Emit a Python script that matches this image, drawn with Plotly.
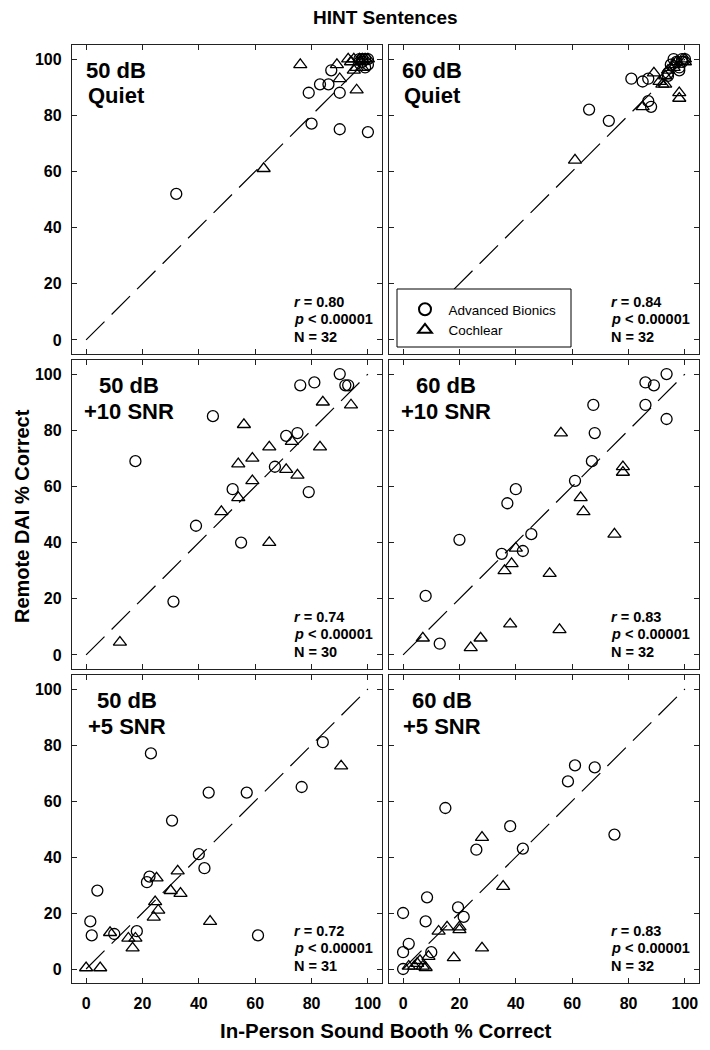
import plotly.graph_objects as go

# ---------------- data ----------------
label_level = ["50 dB", "60 dB", "50 dB", "60 dB", "50 dB", "60 dB"]
label_condition = ["Quiet", "Quiet", "+10 SNR", "+10 SNR", "+5 SNR", "+5 SNR"]
r_values = ["0.80", "0.84", "0.74", "0.83", "0.72", "0.83"]
p_values = ["0.00001", "0.00001", "0.00001", "0.00001", "0.00001", "0.00001"]
n_values = [32, 32, 30, 32, 31, 32]

tick_vals = [0, 20, 40, 60, 80, 100]
tick_text = ["0", "20", "40", "60", "80", "100"]

line_x = [0, 100]
line_y = [0, 100]

# 50 dB Quiet
q50_ab_x = [32, 80, 90, 100, 79, 83, 86, 90, 87, 99, 97, 98, 99, 100, 100, 98]
q50_ab_y = [52, 77, 75, 74, 88, 91, 91, 88, 96, 97, 100, 99, 100, 100, 98, 100]
q50_ci_x = [63, 76, 89, 90, 96, 93, 94, 95, 96, 97, 98, 99, 100, 95, 97, 98]
q50_ci_y = [61, 98, 98, 93, 89, 100, 99, 100, 97, 100, 97, 100, 100, 96, 99, 100]

# 60 dB Quiet
q60_ab_x = [66, 73, 81, 85, 87, 87, 88, 94, 94, 98, 98, 96, 97, 99, 100, 95, 99]
q60_ab_y = [82, 78, 93, 92, 93, 85, 83, 94, 95, 96, 97, 100, 99, 100, 100, 98, 99]
q60_ci_x = [61, 89, 85, 98, 98, 92, 93, 93, 94, 96, 97, 100, 96, 100, 91]
q60_ci_y = [64, 95, 83, 88, 86, 91, 91, 94, 96, 97, 99, 100, 98, 99, 92]

# 50 dB +10 SNR
s10_50_ab_x = [17.5, 31, 39, 45, 52, 55, 67, 71, 75, 79, 76, 81, 90, 92, 93]
s10_50_ab_y = [69, 19, 46, 85, 59, 40, 67, 78, 79, 58, 96, 97, 100, 96, 96]
s10_50_ci_x = [12, 48, 54, 54, 59, 59, 56, 65, 65, 71, 73, 75, 83, 84, 94]
s10_50_ci_y = [4.5, 51, 56, 68, 62, 70, 82, 40, 74, 66, 76, 64, 74, 90, 89]

# 60 dB +10 SNR
s10_60_ab_x = [8, 13, 20, 35, 37, 40, 42.5, 45.5, 61, 67, 68, 67.5, 86, 89, 93.5, 86, 93.5]
s10_60_ab_y = [21, 4, 41, 36, 54, 59, 37, 43, 62, 69, 79, 89, 97, 96, 100, 89, 84]
s10_60_ci_x = [7, 24, 27.5, 38, 36, 38.5, 40, 52, 55.5, 56, 63, 64, 75, 78, 78]
s10_60_ci_y = [6, 2.6, 6, 11, 30, 32.5, 38, 29, 9, 79, 56, 51, 43, 67, 65]

# 50 dB +5 SNR
s5_50_ab_x = [1.5, 2, 4, 10, 18, 21.6, 22.5, 23, 30.5, 40, 42, 43.5, 57, 61, 76.5, 84]
s5_50_ab_y = [17, 12, 28, 12.5, 13.5, 31, 33, 77, 53, 41, 36, 63, 63, 12, 65, 81]
s5_50_ci_x = [0, 5, 8.5, 15, 16.5, 17.5, 24, 24.5, 25.6, 25, 30, 33.5, 32.5, 44, 90.5]
s5_50_ci_y = [0.4, 0.4, 13, 11, 7.5, 11, 18.5, 24, 21, 32.5, 28, 27, 35, 17, 72.5]

# 60 dB +5 SNR
s5_60_ab_x = [0, 0, 0, 2, 8, 8.5, 10, 15, 19.5, 21.5, 26, 38, 42.5, 58.5, 61, 68, 75]
s5_60_ab_y = [20, 6, 0, 9, 17, 25.6, 6, 57.5, 22, 18.6, 42.6, 51, 43, 67, 72.7, 72, 48]
s5_60_ci_x = [12.6, 15.6, 20, 20, 18, 28, 28, 35.5, 9, 2, 4, 5, 6, 7, 8]
s5_60_ci_y = [13.5, 15, 15, 14, 4, 7.5, 47, 29.5, 4.5, 1, 1, 2, 3, 1, 0.5]

panels = [
    (q50_ab_x, q50_ab_y, q50_ci_x, q50_ci_y),
    (q60_ab_x, q60_ab_y, q60_ci_x, q60_ci_y),
    (s10_50_ab_x, s10_50_ab_y, s10_50_ci_x, s10_50_ci_y),
    (s10_60_ab_x, s10_60_ab_y, s10_60_ci_x, s10_60_ci_y),
    (s5_50_ab_x, s5_50_ab_y, s5_50_ci_x, s5_50_ci_y),
    (s5_60_ab_x, s5_60_ab_y, s5_60_ci_x, s5_60_ci_y),
]

# ---------------- layout geometry (pixels) ----------------
W, H = 710, 1050
COLS = [(72, 382), (389, 699)]
ROWS = [(45, 354), (360, 669), (675, 983)]
FONT = "Arial, 'Liberation Sans', sans-serif"
FRAME = "#222222"
label_cx = [44, 43, 57, 57, 55, 53]

fig = go.Figure()
layout = dict(
    width=W, height=H, margin=dict(l=0, r=0, t=0, b=0),
    paper_bgcolor="white", plot_bgcolor="white",
    font=dict(family=FONT, color="black"),
    showlegend=True,
)
annotations = []


def panel_text(xs, ys, pw, ph, x_px, y_px_from_bottom, text, size, xanchor):
    return dict(
        xref=f"{xs} domain", yref=f"{ys} domain",
        x=x_px / pw, y=y_px_from_bottom / ph, xanchor=xanchor, yanchor="middle",
        text=text, showarrow=False, align="left",
        font=dict(family=FONT, size=size, color="black"))


for i, (abx, aby, cix, ciy) in enumerate(panels):
    r, c = divmod(i, 2)
    n = i + 1
    xs = "x" if n == 1 else f"x{n}"
    ys = "y" if n == 1 else f"y{n}"
    x0, x1 = COLS[c]
    y0, y1 = ROWS[r]
    pw = x1 - x0
    ph = y1 - y0

    fig.add_trace(go.Scatter(
        x=line_x, y=line_y, mode="lines", xaxis=xs, yaxis=ys,
        line=dict(color="black", width=1.2, dash="26px,10px"),
        showlegend=False, hoverinfo="skip"))
    fig.add_trace(go.Scatter(
        x=abx, y=aby, mode="markers", xaxis=xs, yaxis=ys,
        name="Advanced Bionics", legendgroup="ab", showlegend=(i == 0),
        marker=dict(symbol="circle-open", size=11, color="black",
                    line=dict(width=1.3, color="black"))))
    fig.add_trace(go.Scatter(
        x=cix, y=ciy, mode="markers", xaxis=xs, yaxis=ys,
        name="Cochlear", legendgroup="ci", showlegend=(i == 0),
        marker=dict(symbol="triangle-up-open", size=11.5, color="black",
                    line=dict(width=1.3, color="black"))))

    axcommon = dict(
        range=[-5, 105], tickvals=tick_vals, ticktext=tick_text,
        ticks="inside", ticklen=5, tickwidth=1, tickcolor=FRAME,
        showline=True, linecolor=FRAME, linewidth=1.2, mirror="ticks",
        showgrid=False, zeroline=False, fixedrange=True,
        tickfont=dict(family=FONT, size=16, color="black", weight="bold"),
    )
    layout["xaxis" if n == 1 else f"xaxis{n}"] = dict(
        axcommon, domain=[x0 / W, x1 / W], anchor=ys,
        showticklabels=(r == 2), ticklabelstandoff=6)
    layout["yaxis" if n == 1 else f"yaxis{n}"] = dict(
        axcommon, domain=[1 - y1 / H, 1 - y0 / H], anchor=xs,
        showticklabels=(c == 0), ticklabelstandoff=6)

    # panel condition label (two centred lines)
    annotations.append(panel_text(xs, ys, pw, ph, label_cx[i], ph - 25.5,
                                  f"<b>{label_level[i]}</b>", 22, "center"))
    annotations.append(panel_text(xs, ys, pw, ph, label_cx[i], ph - 51,
                                  f"<b>{label_condition[i]}</b>", 22, "center"))
    # statistics block
    annotations.append(panel_text(xs, ys, pw, ph, 220, 52,
                                  f"<b><i>r</i> = {r_values[i]}</b>", 14.5, "left"))
    annotations.append(panel_text(xs, ys, pw, ph, 220, 35,
                                  f"<b><i>p</i> &lt; {p_values[i]}</b>", 14.5, "left"))
    annotations.append(panel_text(xs, ys, pw, ph, 220, 17,
                                  f"<b>N = {n_values[i]}</b>", 14.5, "left"))

annotations.append(dict(
    xref="paper", yref="paper", x=385.5 / W, y=1 - 18 / H,
    xanchor="center", yanchor="middle", showarrow=False,
    text="<b>HINT Sentences</b>", font=dict(family=FONT, size=19, color="black")))
annotations.append(dict(
    xref="paper", yref="paper", x=385.5 / W, y=1 - 1030 / H,
    xanchor="center", yanchor="middle", showarrow=False,
    text="<b>In-Person Sound Booth % Correct</b>",
    font=dict(family=FONT, size=20.5, color="black")))
annotations.append(dict(
    xref="paper", yref="paper", x=22 / W, y=1 - 516 / H,
    xanchor="center", yanchor="middle", showarrow=False, textangle=-90,
    text="<b>Remote DAI % Correct</b>",
    font=dict(family=FONT, size=20, color="black")))

layout["annotations"] = annotations
layout["shapes"] = [dict(
    type="rect", xref="paper", yref="paper", layer="above",
    x0=397 / W, x1=571 / W, y0=1 - 347 / H, y1=1 - 289 / H,
    fillcolor="white", line=dict(color="black", width=1))]
layout["legend"] = dict(
    x=401.5 / W, y=1 - 294 / H, xanchor="left", yanchor="top",
    bgcolor="rgba(0,0,0,0)", borderwidth=0, tracegroupgap=0, itemwidth=37,
    font=dict(family=FONT, size=13.5, color="black"), itemsizing="constant")

fig.update_layout(**layout)
fig.write_html("out.html", config={"displayModeBar": False, "staticPlot": True})

# remove the default page margin so the figure sits at the window origin
with open("out.html", "r", encoding="utf-8") as fh:
    html = fh.read()
html = html.replace("<head>", "<head><style>html,body{margin:0;padding:0;overflow:hidden;}</style>", 1)
with open("out.html", "w", encoding="utf-8") as fh:
    fh.write(html)
